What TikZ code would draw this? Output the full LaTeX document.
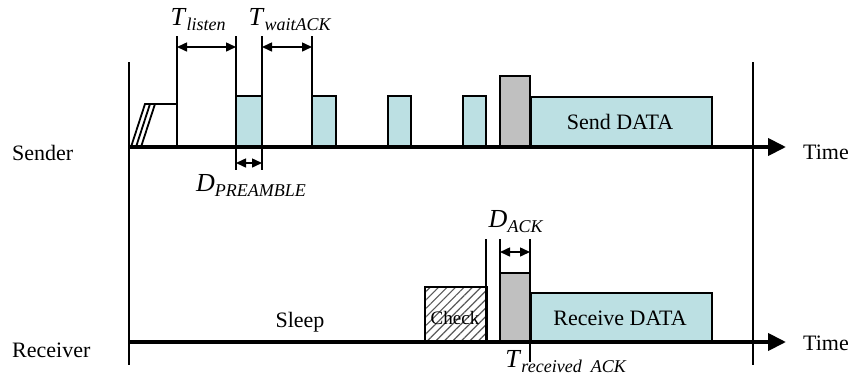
\documentclass[tikz,border=0pt]{standalone}
\usepackage{fontspec}
\setmainfont{Liberation Serif}
\usetikzlibrary{arrows.meta,patterns.meta}
\definecolor{cy}{HTML}{BCE0E3}
\definecolor{gr}{HTML}{C0C0C0}
\newcommand{\sublbl}[2]{\fontsize{26}{26}\selectfont\textit{#1}\raisebox{-5pt}{\fontsize{18}{18}\selectfont\textit{#2}}}
\begin{document}
\begin{tikzpicture}[x=1pt,y=-1pt,
  timeaxis/.style={line width=4pt,-{Triangle[length=18pt,width=17pt]}},
  box/.style={draw,line width=1.8pt},
  dim/.style={line width=1.5pt,{Triangle[length=10pt,width=9pt]}-{Triangle[length=10pt,width=9pt]}},
  vl/.style={line width=1.8pt},
  lbl/.style={font=\fontsize{22}{26}\selectfont, inner sep=0pt}]
\useasboundingbox (0,0) rectangle (854,378);
% frame verticals
\coordinate (LT) at (129,62); \coordinate (LB) at (129,365);
\coordinate (RT) at (753,62); \coordinate (RB) at (753,365);
\draw[vl] (LT) -- (LB);
\draw[vl] (RT) -- (RB);
% sender boxes
\draw[box,fill=cy] (236,96) rectangle (262,147);
\draw[box,fill=cy] (312,96) rectangle (336,147);
\draw[box,fill=cy] (388,96) rectangle (411,147);
\draw[box,fill=cy] (463,96) rectangle (486,147);
\draw[box,fill=gr] (500,76) rectangle (530,147);
\node[box,fill=cy,anchor=north west,minimum width=181pt,minimum height=51pt,inner sep=0pt] (send) at (530,96) {};
\node[lbl] (sendt) at (620,122) {Send DATA};
% ramp
\draw[vl] (131,147) -- (145,104) -- (177,104);
\draw[vl] (136,147) -- (150,104);
\draw[vl] (141,147) -- (155,104);
% sender verticals
\coordinate (v1t) at (177,36); \coordinate (v1b) at (177,147);
\coordinate (v2t) at (236,36); \coordinate (v2b) at (236,170);
\coordinate (v3t) at (262,36); \coordinate (v3b) at (262,170);
\coordinate (v4t) at (312,36); \coordinate (v4b) at (312,96);
\draw[vl] (v1t) -- (v1b);
\draw[vl] (v2t) -- (v2b);
\draw[vl] (v3t) -- (v3b);
\draw[vl] (v4t) -- (v4b);
\draw[dim] (177,47) -- (236,47);
\draw[dim] (262,47) -- (312,47);
\draw[dim] (236,163) -- (262,163);
\node[inner sep=0pt] (tl) at (198,20) {\sublbl{T}{listen}};
\node[inner sep=0pt] (tw) at (290,20) {\sublbl{T}{waitACK}};
\node[inner sep=0pt] (dp) at (251,186) {\sublbl{D}{PREAMBLE}};
% sender axis
\coordinate (sa0) at (129,147); \coordinate (sa1) at (786,147);
\draw[timeaxis] (sa0) -- (sa1);
\node[lbl,anchor=west] (sender) at (12,153) {Sender};
\node[lbl,anchor=west] (time1) at (803,152) {Time};
% receiver
\node[box,anchor=north west,minimum width=62pt,minimum height=56pt,inner sep=0pt,
  pattern={Lines[angle=45,distance=6pt,line width=1.2pt]},pattern color=black!65] (check) at (424,286) {};
\node[lbl,font=\fontsize{19}{20}\selectfont] (checkt) at (455,318) {Check};
\draw[box,fill=gr] (500,273) rectangle (530,342);
\node[box,fill=cy,anchor=north west,minimum width=181pt,minimum height=50pt,inner sep=0pt] (recv) at (530,292) {};
\node[lbl] (recvt) at (620,318) {Receive DATA};
\coordinate (w1t) at (486,239); \coordinate (w1b) at (486,342);
\coordinate (w2t) at (500,239); \coordinate (w2b) at (500,342);
\coordinate (w3t) at (530,239); \coordinate (w3b) at (530,362);
\draw[vl] (w1t) -- (w1b);
\draw[vl] (w2t) -- (w2b);
\draw[vl] (w3t) -- (w3b);
\draw[dim] (500,252) -- (530,252);
\node[inner sep=0pt] (dack) at (516,222) {\sublbl{D}{ACK}};
\node[inner sep=0pt] (track) at (566,362) {\sublbl{T}{received\ \ ACK}};
\coordinate (ra0) at (129,342); \coordinate (ra1) at (786,342);
\draw[timeaxis] (ra0) -- (ra1);
\node[lbl] (sleep) at (300,322) {Sleep};
\node[lbl,anchor=west] (receiver) at (12,350) {Receiver};
\node[lbl,anchor=west] (time2) at (803,343) {Time};
\end{tikzpicture}
\end{document}
